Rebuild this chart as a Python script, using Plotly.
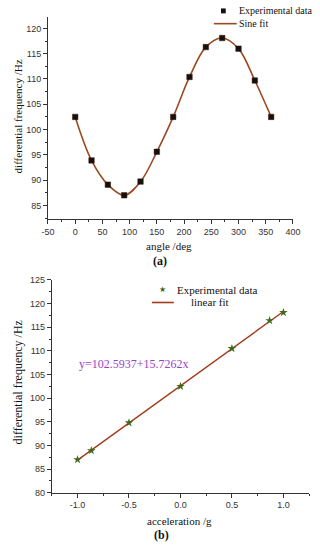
import plotly.graph_objects as go

# ---- data (a) ----
angle_deg = [0, 30, 60, 90, 120, 150, 180, 210, 240, 270, 300, 330, 360]
freq_angle = [102.5, 93.9, 89.1, 87.0, 89.7, 95.6, 102.5, 110.4, 116.3, 118.1, 116.0, 109.7, 102.5]
a_xticks = [-50, 0, 50, 100, 150, 200, 250, 300, 350, 400]
a_xlabels = ["-50", "0", "50", "100", "150", "200", "250", "300", "350", "400"]
a_yticks = [85, 90, 95, 100, 105, 110, 115, 120]

# ---- data (b) ----
accel_g = [-1.0, -0.866, -0.5, 0.0, 0.5, 0.866, 1.0]
freq_accel = [87.0, 88.9, 94.8, 102.5, 110.5, 116.4, 118.1]
fit_x = [-1.0, 1.0]
fit_y = [86.87, 118.32]
b_xticks = [-1.0, -0.5, 0.0, 0.5, 1.0]
b_xlabels = ["-1.0", "-0.5", "0.0", "0.5", "1.0"]
b_yticks = [80, 85, 90, 95, 100, 105, 110, 115, 120, 125]
fit_label = "y=102.5937+15.7262x"

SERIF = "Liberation Serif"
SANS = "Liberation Sans"
W, H = 320, 550
SINE_COLOR = "#9a4a22"
LIN_COLOR = "#a23a1c"
STAR_COLOR = "#3f6a1a"

def px(x):
    return x / W

def py(y):
    return 1 - y / H

fig = go.Figure()

fig.add_trace(go.Scatter(x=angle_deg, y=freq_angle, mode="lines", name="Sine fit",
                         line=dict(color=SINE_COLOR, width=1.6, shape="spline", smoothing=1.0),
                         xaxis="x", yaxis="y", showlegend=False))
fig.add_trace(go.Scatter(x=angle_deg, y=freq_angle, mode="markers", name="Experimental data",
                         marker=dict(symbol="square", size=5.5, color="#111111",
                                     line=dict(color="#4a1a08", width=0.5)),
                         xaxis="x", yaxis="y", showlegend=False))
fig.add_trace(go.Scatter(x=fit_x, y=fit_y, mode="lines", name="linear fit",
                         line=dict(color=LIN_COLOR, width=1.4),
                         xaxis="x2", yaxis="y2", showlegend=False))
fig.add_trace(go.Scatter(x=accel_g, y=freq_accel, mode="markers", name="Experimental data",
                         marker=dict(symbol="star", size=6.5, color=STAR_COLOR),
                         xaxis="x2", yaxis="y2", showlegend=False))

axis_common = dict(showline=True, linecolor="#333333", linewidth=1, ticks="outside",
                   ticklen=4, tickwidth=1, tickcolor="#333333", showgrid=False, zeroline=False,
                   tickfont=dict(family=SANS, size=9, color="#333333"), mirror=False)

fig.update_layout(
    width=W, height=H, margin=dict(l=0, r=0, t=0, b=0),
    paper_bgcolor="white", plot_bgcolor="white", showlegend=False,
    xaxis=dict(domain=[px(43), px(300)], range=[-50, 400], anchor="y",
               tickmode="array", tickvals=a_xticks, ticktext=a_xlabels,
               minor=dict(ticks="outside", ticklen=2, dtick=25, tick0=0, tickcolor="#333333"),
               **axis_common),
    yaxis=dict(domain=[py(218), py(12)], range=[82.3, 122.3], anchor="x",
               tickmode="array", tickvals=a_yticks,
               minor=dict(ticks="outside", ticklen=2, dtick=2.5, tick0=0, tickcolor="#333333"),
               **axis_common),
    xaxis2=dict(domain=[px(47), px(317)], range=[-1.25, 1.25], anchor="y2",
                tickmode="array", tickvals=b_xticks, ticktext=b_xlabels,
                minor=dict(ticks="outside", ticklen=2, dtick=0.25, tick0=0, tickcolor="#333333"),
                **axis_common),
    yaxis2=dict(domain=[py(496.7), py(280)], range=[80, 125], anchor="x2",
                tickmode="array", tickvals=b_yticks,
                minor=dict(ticks="outside", ticklen=2, dtick=2.5, tick0=0, tickcolor="#333333"),
                **axis_common),
)

ann = []
def text(x, y, s, size=11, angle=0, bold=False, color="#111111", xref="paper", yref="paper",
         xanchor="center", family=SERIF):
    ann.append(dict(x=x, y=y, xref=xref, yref=yref, text=("<b>%s</b>" % s) if bold else s,
                    showarrow=False, textangle=angle, xanchor=xanchor, yanchor="middle",
                    borderpad=0, borderwidth=0,
                    font=dict(family=family, size=size, color=color)))

text(px(11), py(113), "differential frequency /Hz", size=11, angle=-90)
text(px(170), py(245), "angle /deg", size=11)
text(px(160), py(261), "(a)", size=12, bold=True)
text(px(12), py(384), "differential frequency /Hz", size=12, angle=-90)
text(px(181), py(526), "acceleration /g", size=11)
text(px(162), py(540), "(b)", size=12, bold=True)
text(-0.45, 107.3, fit_label, size=12, color="#9b3fc7", xref="x2", yref="y2")

# manual legends
text(px(243), py(6), "Experimental data", size=10, xanchor="left")
text(px(243), py(19), "Sine fit", size=10, xanchor="left")
text(px(178), py(290), "Experimental data", size=11, xanchor="left")
text(px(193), py(303), "linear fit", size=11, xanchor="left")
text(px(163), py(290), "★", size=8, color=STAR_COLOR, family="DejaVu Sans")
fig.update_layout(annotations=ann)

shapes = [
    dict(type="rect", xref="paper", yref="paper", x0=px(224.5), x1=px(229.5), y0=py(8.5), y1=py(3.5),
         fillcolor="#111111", line=dict(width=0)),
    dict(type="line", xref="paper", yref="paper", x0=px(217), x1=px(241), y0=py(19), y1=py(19),
         line=dict(color=SINE_COLOR, width=1.6)),
    dict(type="line", xref="paper", yref="paper", x0=px(152), x1=px(175), y0=py(303), y1=py(303),
         line=dict(color=LIN_COLOR, width=1.6)),
]
fig.update_layout(shapes=shapes)

fig.write_html("out.html", config={"displayModeBar": False, "staticPlot": True},
               post_script="document.body.style.margin='0px';document.body.style.overflow='hidden';")
